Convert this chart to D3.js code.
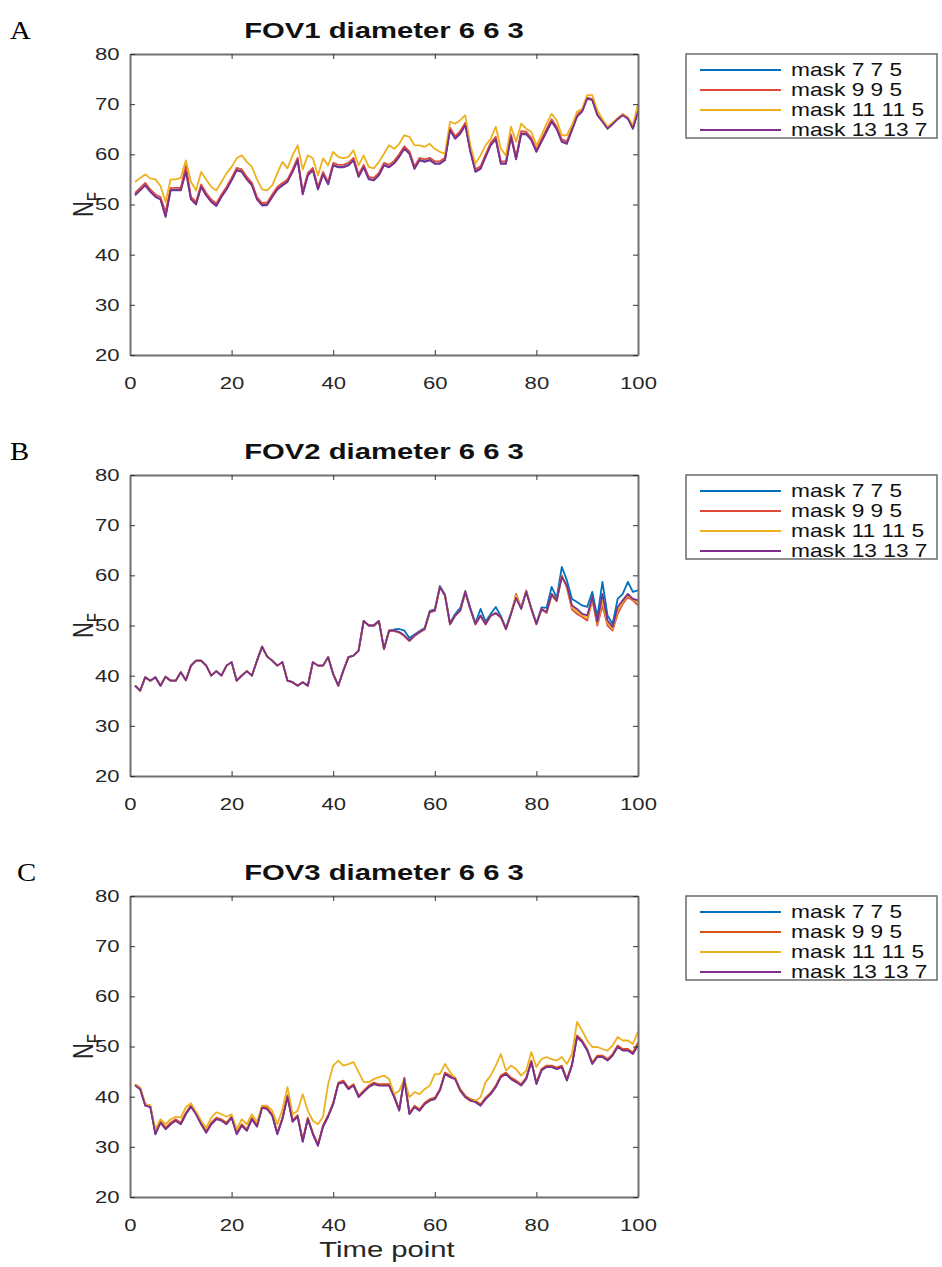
<!DOCTYPE html>
<html>
<head>
<meta charset="utf-8">
<script src="https://cdn.jsdelivr.net/npm/d3@7"></script>
<style>
  html, body { margin: 0; padding: 0; background: #fff; }
  svg { display: block; }
</style>
</head>
<body>
<svg id="chart" width="942" height="1267"></svg>
<script>
// ---------------- DATA ----------------
const panelLetters = ["A", "B", "C"];
const panelTitles = ["FOV1 diameter 6 6 3", "FOV2 diameter 6 6 3", "FOV3 diameter 6 6 3"];
const seriesNames = ["mask 7 7 5", "mask 9 9 5", "mask 11 11 5", "mask 13 13 7"];
const xTicks = [0, 20, 40, 60, 80, 100];
const yTicks = [20, 30, 40, 50, 60, 70, 80];
const xAxisLabel = "Time point";
const timePoints = d3.range(1, 101);

// FOV1
const fov1Mask775 = [52,52.9,53.9,52.6,51.6,51.1,47.8,52.9,52.9,53,
  57,51.1,50.1,53.6,51.9,50.6,49.8,51.6,53.1,54.9,
  56.9,56.6,55.1,53.9,51.1,49.9,50,51.6,53.1,53.9,
  54.6,56.6,59,52.2,55.9,56.9,53.1,56.1,54.1,57.9,
  57.5,57.5,57.9,58.9,55.6,57.5,55.1,54.9,55.9,57.9,
  57.5,58.3,59.6,61.3,60.2,57.2,58.9,58.6,58.9,58.2,
  58.2,58.9,65,63.2,64.2,65.9,60.6,56.6,57.2,59.6,
  61.9,63.1,58.2,58.2,63.6,59.1,64.1,64.1,62.9,60.6,
  62.6,64.6,66.6,65.1,62.6,62.2,64.9,67.6,68.6,71.3,
  70.9,67.9,66.6,65.2,66.1,67.1,67.9,67.2,65.2,68.6];
const fov1Mask995 = [52.3,53.3,54.3,53,52,51.5,48.5,53.3,53.3,53.3,
  57.8,51.5,50.5,54,52.3,51,50.2,52,53.5,55.3,
  57.3,57,55.5,54.3,51.5,50.3,50.4,52,53.5,54.3,
  55,57,59.3,52.5,56.3,57.3,53.5,56.5,54.5,58.3,
  57.9,57.9,58.3,59.3,56,57.9,55.5,55.3,56.3,58.3,
  57.9,58.7,60,61.6,60.6,57.6,59.3,59,59.3,58.6,
  58.6,59.3,65.3,63.6,64.6,66.3,61,57,57.6,60,
  62.3,63.5,58.6,58.6,64,59.5,64.6,64.5,63.3,61,
  63,65,67,65.5,63,62.6,65.2,67.9,68.8,71.3,
  71,68,66.7,65.3,66.2,67.2,68,67.3,65.3,68.8];
const fov1Mask11115 = [54.5,55.3,56,55.2,55,53.7,50.5,55,55,55.3,
  58.8,54.5,52.8,56.5,55,53.5,52.8,54.5,56.2,57.5,
  59.2,59.8,58.5,57.5,55,53,52.8,53.8,56.2,58.5,
  57.2,59.8,61.8,57,59.8,59.2,55.8,59.2,57.8,60.5,
  59.5,59.2,59.5,60.8,57.8,59.8,57.5,57.2,58.5,60.1,
  61.8,61.1,62.1,63.8,63.5,61.8,61.8,61.5,62.1,61.1,
  60.5,60.1,66.5,66.1,66.8,67.8,61.8,58.1,59.8,61.8,
  63.1,65.5,61.1,59.8,65.5,62.5,66.1,65.1,64.5,61.8,
  63.8,66.1,68.1,66.8,63.8,63.8,65.8,68.5,69.1,71.8,
  71.8,68.8,67,65.5,66.3,67.2,68,67.4,65.8,70];
const fov1Mask13137 = [51.8,52.8,53.8,52.5,51.5,51,47.5,52.8,52.8,52.8,
  56.5,51,50,53.5,51.8,50.5,49.7,51.5,53,54.8,
  56.8,56.5,55,53.8,51,49.8,49.9,51.5,53,53.8,
  54.5,56.5,58.8,52,55.8,56.8,53,56,54,57.8,
  57.4,57.4,57.8,58.8,55.5,57.4,55,54.8,55.8,57.8,
  57.4,58.2,59.5,61.1,60.1,57.1,58.8,58.5,58.8,58.1,
  58.1,58.8,64.8,63.1,64.1,65.8,60.5,56.5,57.1,59.5,
  61.8,63,58.1,58.1,63.5,59,64,64,62.8,60.5,
  62.5,64.5,66.5,65,62.5,62.1,64.8,67.5,68.5,71.1,
  70.8,67.8,66.5,65.1,66,67,67.8,67.1,65.1,68.5];

// FOV2
const fov2Mask775 = [38,37,39.7,39,39.7,38,39.8,39,39,40.7,
  39.1,42,43,43,42,40,40.9,40,42,42.7,
  39,40,40.9,40,43,45.8,43.8,43,42,42.7,
  39,38.7,38,38.7,38,42.7,42,42,43.7,40.3,
  38,41,43.7,44,45,50.9,50,50,50.9,45.3,
  49,49.2,49.3,49,47.5,48.2,48.9,49.5,52.9,53.2,
  57.9,56.2,50.5,52.3,53.5,56.9,53.5,50.5,53.3,50.8,
  52.3,53.7,51.9,49.5,52.5,55.7,53.5,56.9,53.5,50.5,
  53.6,53.5,57.7,55.5,61.7,59,55.3,54.7,54,53.7,
  56.7,51.7,58.7,52,50.3,55.3,56.3,58.7,56.7,57];
const fov2Mask995 = [38,37,39.7,39,39.7,38,39.8,39,39,40.7,
  39.1,42,43,43,42,40,40.9,40,42,42.7,
  39,40,40.9,40,43,45.8,43.8,43,42,42.7,
  39,38.7,38,38.7,38,42.7,42,42,43.7,40.3,
  38,41,43.7,44,45,50.9,50,50,50.9,45.3,
  48.9,48.9,48.6,47.9,46.9,47.9,48.6,49.2,52.6,52.9,
  57.6,55.9,50.2,51.9,52.9,56.6,53.2,50.2,51.9,50.2,
  51.9,52.4,51.6,49.2,52.3,56.3,53.5,57,53.3,50.2,
  53.2,52.5,56,54.8,60,57.5,53.2,52.3,51.7,51,
  55,50,54,50,49,52.3,54.3,55.7,55,54];
const fov2Mask11115 = [38,37,39.7,39,39.7,38,39.8,39,39,40.7,
  39.1,42,43,43,42,40,40.9,40,42,42.7,
  39,40,40.9,40,43,45.8,43.8,43,42,42.7,
  39,38.7,38,38.7,38,42.7,42,42,43.7,40.3,
  38,41,43.7,44,45,50.9,50,50,50.9,45.3,
  49,49,48.7,48,47,48,48.7,49.3,52.7,53,
  57.7,56,50.3,52,53,56.7,53.3,50.3,52,50.3,
  52,52.5,51.7,49.3,52.3,56,53.4,56.8,53.3,50.3,
  53.3,52.6,56.2,55,59.8,57.8,53.6,52.8,52,51.5,
  55.4,50.4,55,50.5,49.3,53,54.7,56,55.2,54.6];
const fov2Mask13137 = [38,37,39.7,39,39.7,38,39.8,39,39,40.7,
  39.1,42,43,43,42,40,40.9,40,42,42.7,
  39,40,40.9,40,43,45.8,43.8,43,42,42.7,
  39,38.7,38,38.7,38,42.7,42,42,43.7,40.3,
  38,41,43.7,44,45,50.9,50,50,50.9,45.3,
  49,49,48.7,48,47,48,48.7,49.3,52.7,53,
  57.7,56,50.3,52,53,56.7,53.3,50.3,52,50.3,
  52,52.5,51.7,49.3,52.3,55.5,53.3,56.7,53.3,50.3,
  53.3,52.7,56.3,55,59.7,58,54,53.3,52.3,52,
  55.7,50.7,56.3,51,49.7,53.7,55,56.3,55.3,55];

// FOV3
const fov3Mask775 = [42.3,41.6,38.3,38,32.6,34.9,33.6,34.6,35.3,34.6,
  36.6,38.1,36.6,34.6,32.9,34.6,35.6,35.3,34.6,35.9,
  32.6,34.3,33.3,35.6,34.1,37.9,37.6,36.3,32.6,35.6,
  40,35.1,36.1,31.1,35.6,32.6,30.3,34.1,36.1,38.6,
  42.6,43,41.6,42.3,40,41,42,42.6,42.3,42.3,
  42.3,40,37.3,43.6,36.6,38,37.3,38.6,39.3,39.6,
  41.3,44.6,44,43.6,41.3,40,39.3,39,38.3,39.6,
  40.6,42,44,44.6,43.6,43,42.3,43.6,47,42.6,
  45.3,46,46,45.6,46,43.3,46.3,52,51,49.3,
  46.6,48,48,47.3,48.3,50,49.3,49.3,48.6,50.3];
const fov3Mask995 = [42.4,41.8,38.5,38.2,32.8,35.2,33.8,34.8,35.5,34.8,
  36.8,38.3,36.8,34.8,33.1,34.8,35.8,35.5,34.8,36.1,
  32.8,34.5,33.5,35.8,34.3,38.1,37.8,36.5,32.8,35.8,
  40.3,35.3,36.3,31.4,35.8,32.8,30.5,34.3,36.3,38.8,
  42.8,43.2,41.8,42.5,40.2,41.2,42.2,42.8,42.5,42.5,
  42.5,40.2,37.5,43.8,36.8,38.2,37.5,38.8,39.5,39.8,
  41.5,44.8,44.2,43.8,41.5,40.2,39.5,39.2,38.5,39.8,
  40.8,42.2,44.2,44.8,43.8,43.2,42.5,43.8,47.2,42.8,
  45.5,46.2,46.2,45.8,46.2,43.5,46.5,52.2,51.2,49.5,
  46.8,48.2,48.2,47.5,48.5,50.2,49.5,49.5,48.8,50.8];
const fov3Mask11115 = [42.2,41.8,38.5,38.2,33.5,35.5,34.5,35.5,36,35.8,
  37.9,38.7,37,35.2,33.8,35.8,36.9,36.5,36,36.5,
  33.5,35.5,34.5,36.5,35,38.2,38.2,37.2,34.5,37.5,
  41.9,36.5,37.2,40.5,37.2,35.2,34.5,36,42.5,46.2,
  47.2,46.2,46.5,46.9,44.9,42.9,42.9,43.5,43.9,44.2,
  43.5,40.5,41.2,43.5,39.9,40.9,40.5,41.5,42.2,44.5,
  44.5,46.5,44.9,43.5,41.2,39.9,39.2,39.2,39.9,42.9,
  44.2,46.2,48.5,45.2,46.2,45.5,44.2,45.2,48.9,45.9,
  47.5,47.9,47.5,47.2,47.9,46.5,48.5,54.9,53.2,51.2,
  49.9,49.9,49.5,49.2,50.2,51.9,51.2,51.2,50.5,52.9];
const fov3Mask13137 = [42.2,41.5,38.2,37.9,32.5,34.8,33.5,34.5,35.2,34.5,
  36.5,38,36.5,34.5,32.8,34.5,35.5,35.2,34.5,35.8,
  32.5,34.2,33.2,35.5,34,37.8,37.5,36.2,32.5,35.5,
  39.9,35,36,31,35.5,32.5,30.2,34,36,38.5,
  42.5,42.9,41.5,42.2,39.9,40.9,41.9,42.5,42.2,42.2,
  42.2,39.9,37.2,43.5,36.5,37.9,37.2,38.5,39.2,39.5,
  41.2,44.5,43.9,43.5,41.2,39.9,39.2,38.9,38.2,39.5,
  40.5,41.9,43.9,44.5,43.5,42.9,42.2,43.5,46.9,42.5,
  45.2,45.9,45.9,45.5,45.9,43.2,46.2,51.9,50.9,49.2,
  46.5,47.9,47.9,47.2,48.2,49.9,49.2,49.2,48.5,50.2];

// ---------------- LAYOUT / STYLE ----------------
const panels = [
  { letter: panelLetters[0], title: panelTitles[0], series: [fov1Mask775, fov1Mask995, fov1Mask11115, fov1Mask13137], top: 54, letterX: 10, colors: ["#0072BD", "#E04A3C", "#EDB120", "#7E2F8E"] },
  { letter: panelLetters[1], title: panelTitles[1], series: [fov2Mask775, fov2Mask995, fov2Mask11115, fov2Mask13137], top: 475, letterX: 10, colors: ["#0072BD", "#E04A3C", "#EDB120", "#7E2F8E"] },
  { letter: panelLetters[2], title: panelTitles[2], series: [fov3Mask775, fov3Mask995, fov3Mask11115, fov3Mask13137], top: 896, letterX: 17, colors: ["#0072BD", "#D95319", "#EDB120", "#7E2F8E"] }
];
const plotLeft = 130, plotRight = 638, plotH = 301;
const SX = 1.3; // horizontal stretch of the original figure
const fontSans = "Arial, 'Liberation Sans', Helvetica, sans-serif";

const svg = d3.select("#chart");

const x = d3.scaleLinear().domain([0, 100]).range([plotLeft, plotRight]);

panels.forEach((p, pi) => {
  const top = p.top, bottom = top + plotH;
  const y = d3.scaleLinear().domain([20, 80]).range([bottom, top]);
  const g = svg.append("g");

  // panel letter
  g.append("text")
    .attr("transform", `translate(${p.letterX},${top - 15}) scale(1.15,1)`)
    .attr("font-family", "'Liberation Serif', 'Times New Roman', serif")
    .attr("font-size", 25).attr("fill", "#000")
    .text(p.letter);

  // title
  g.append("text")
    .attr("transform", `translate(${(plotLeft + plotRight) / 2},${top - 16}) scale(1.33,1)`)
    .attr("text-anchor", "middle")
    .attr("font-family", fontSans).attr("font-weight", "bold")
    .attr("font-size", 22).attr("fill", "#111")
    .text(p.title);

  // data lines
  const line = d3.line().x((d, i) => x(timePoints[i])).y(d => y(d));
  p.series.forEach((s, si) => {
    g.append("path")
      .datum(s)
      .attr("d", line)
      .attr("fill", "none")
      .attr("stroke", p.colors[si])
      .attr("stroke-width", 1.8)
      .attr("stroke-linejoin", "round");
  });

  // axes (MATLAB style: box, inward ticks)
  const axisColor = "#707070";
  const styleAxis = sel => {
    sel.select(".domain").attr("stroke", axisColor).attr("stroke-width", 2);
    sel.selectAll(".tick line").attr("stroke", "#333").attr("stroke-width", 1);
  };
  const xb = g.append("g").attr("transform", `translate(0,${bottom})`)
    .call(d3.axisBottom(x).tickValues(xTicks).tickSizeInner(-5).tickSizeOuter(0).tickFormat(d3.format("d")));
  styleAxis(xb);
  xb.selectAll(".tick text")
    .attr("y", 22).attr("dy", "0.71em")
    .attr("transform", `scale(${SX},1)`)
    .attr("font-family", fontSans).attr("font-size", 17).attr("fill", "#262626");

  const xt = g.append("g").attr("transform", `translate(0,${top})`)
    .call(d3.axisTop(x).tickValues(xTicks).tickSizeInner(-5).tickSizeOuter(0).tickFormat(""));
  styleAxis(xt);

  const yl = g.append("g").attr("transform", `translate(${plotLeft},0)`)
    .call(d3.axisLeft(y).tickValues(yTicks).tickSizeInner(-5).tickSizeOuter(0).tickFormat(d3.format("d")));
  styleAxis(yl);
  yl.selectAll(".tick text")
    .attr("x", -8)
    .attr("transform", `scale(${SX},1)`)
    .attr("font-family", fontSans).attr("font-size", 17).attr("fill", "#262626");

  const yr = g.append("g").attr("transform", `translate(${plotRight},0)`)
    .call(d3.axisRight(y).tickValues(yTicks).tickSizeInner(-5).tickSizeOuter(0).tickFormat(""));
  styleAxis(yr);

  // y label N_F
  const yLab = g.append("text")
    .attr("transform", `translate(93,${(top + bottom) / 2}) scale(${SX},1) rotate(-90)`)
    .attr("text-anchor", "middle")
    .attr("font-family", fontSans).attr("font-size", 22).attr("fill", "#262626");
  yLab.append("tspan").text("N");
  yLab.append("tspan").attr("font-size", 15).attr("dy", 6).text("F");

  // legend
  const lgX = 686, lgY = top, lgW = 251, lgH = 84;
  const lg = g.append("g");
  lg.append("rect")
    .attr("x", lgX).attr("y", lgY).attr("width", lgW).attr("height", lgH)
    .attr("fill", "#fff").attr("stroke", "#6a6a6a").attr("stroke-width", 1.5);
  seriesNames.forEach((name, si) => {
    const ry = lgY + 16 + si * 20;
    lg.append("line")
      .attr("x1", 700).attr("x2", 781).attr("y1", ry).attr("y2", ry)
      .attr("stroke", p.colors[si]).attr("stroke-width", 1.8);
    lg.append("text")
      .attr("transform", `translate(791,${ry + 6}) scale(${SX},1)`)
      .attr("font-family", fontSans).attr("font-size", 17.5).attr("fill", "#111")
      .text(name);
  });

  // x label only on the last panel
  if (pi === panels.length - 1) {
    g.append("text")
      .attr("transform", `translate(${(plotLeft + plotRight) / 2 + 3},${bottom + 60}) scale(1.33,1)`)
      .attr("text-anchor", "middle")
      .attr("font-family", fontSans).attr("font-size", 22).attr("fill", "#262626")
      .text(xAxisLabel);
  }
});
</script>
</body>
</html>
